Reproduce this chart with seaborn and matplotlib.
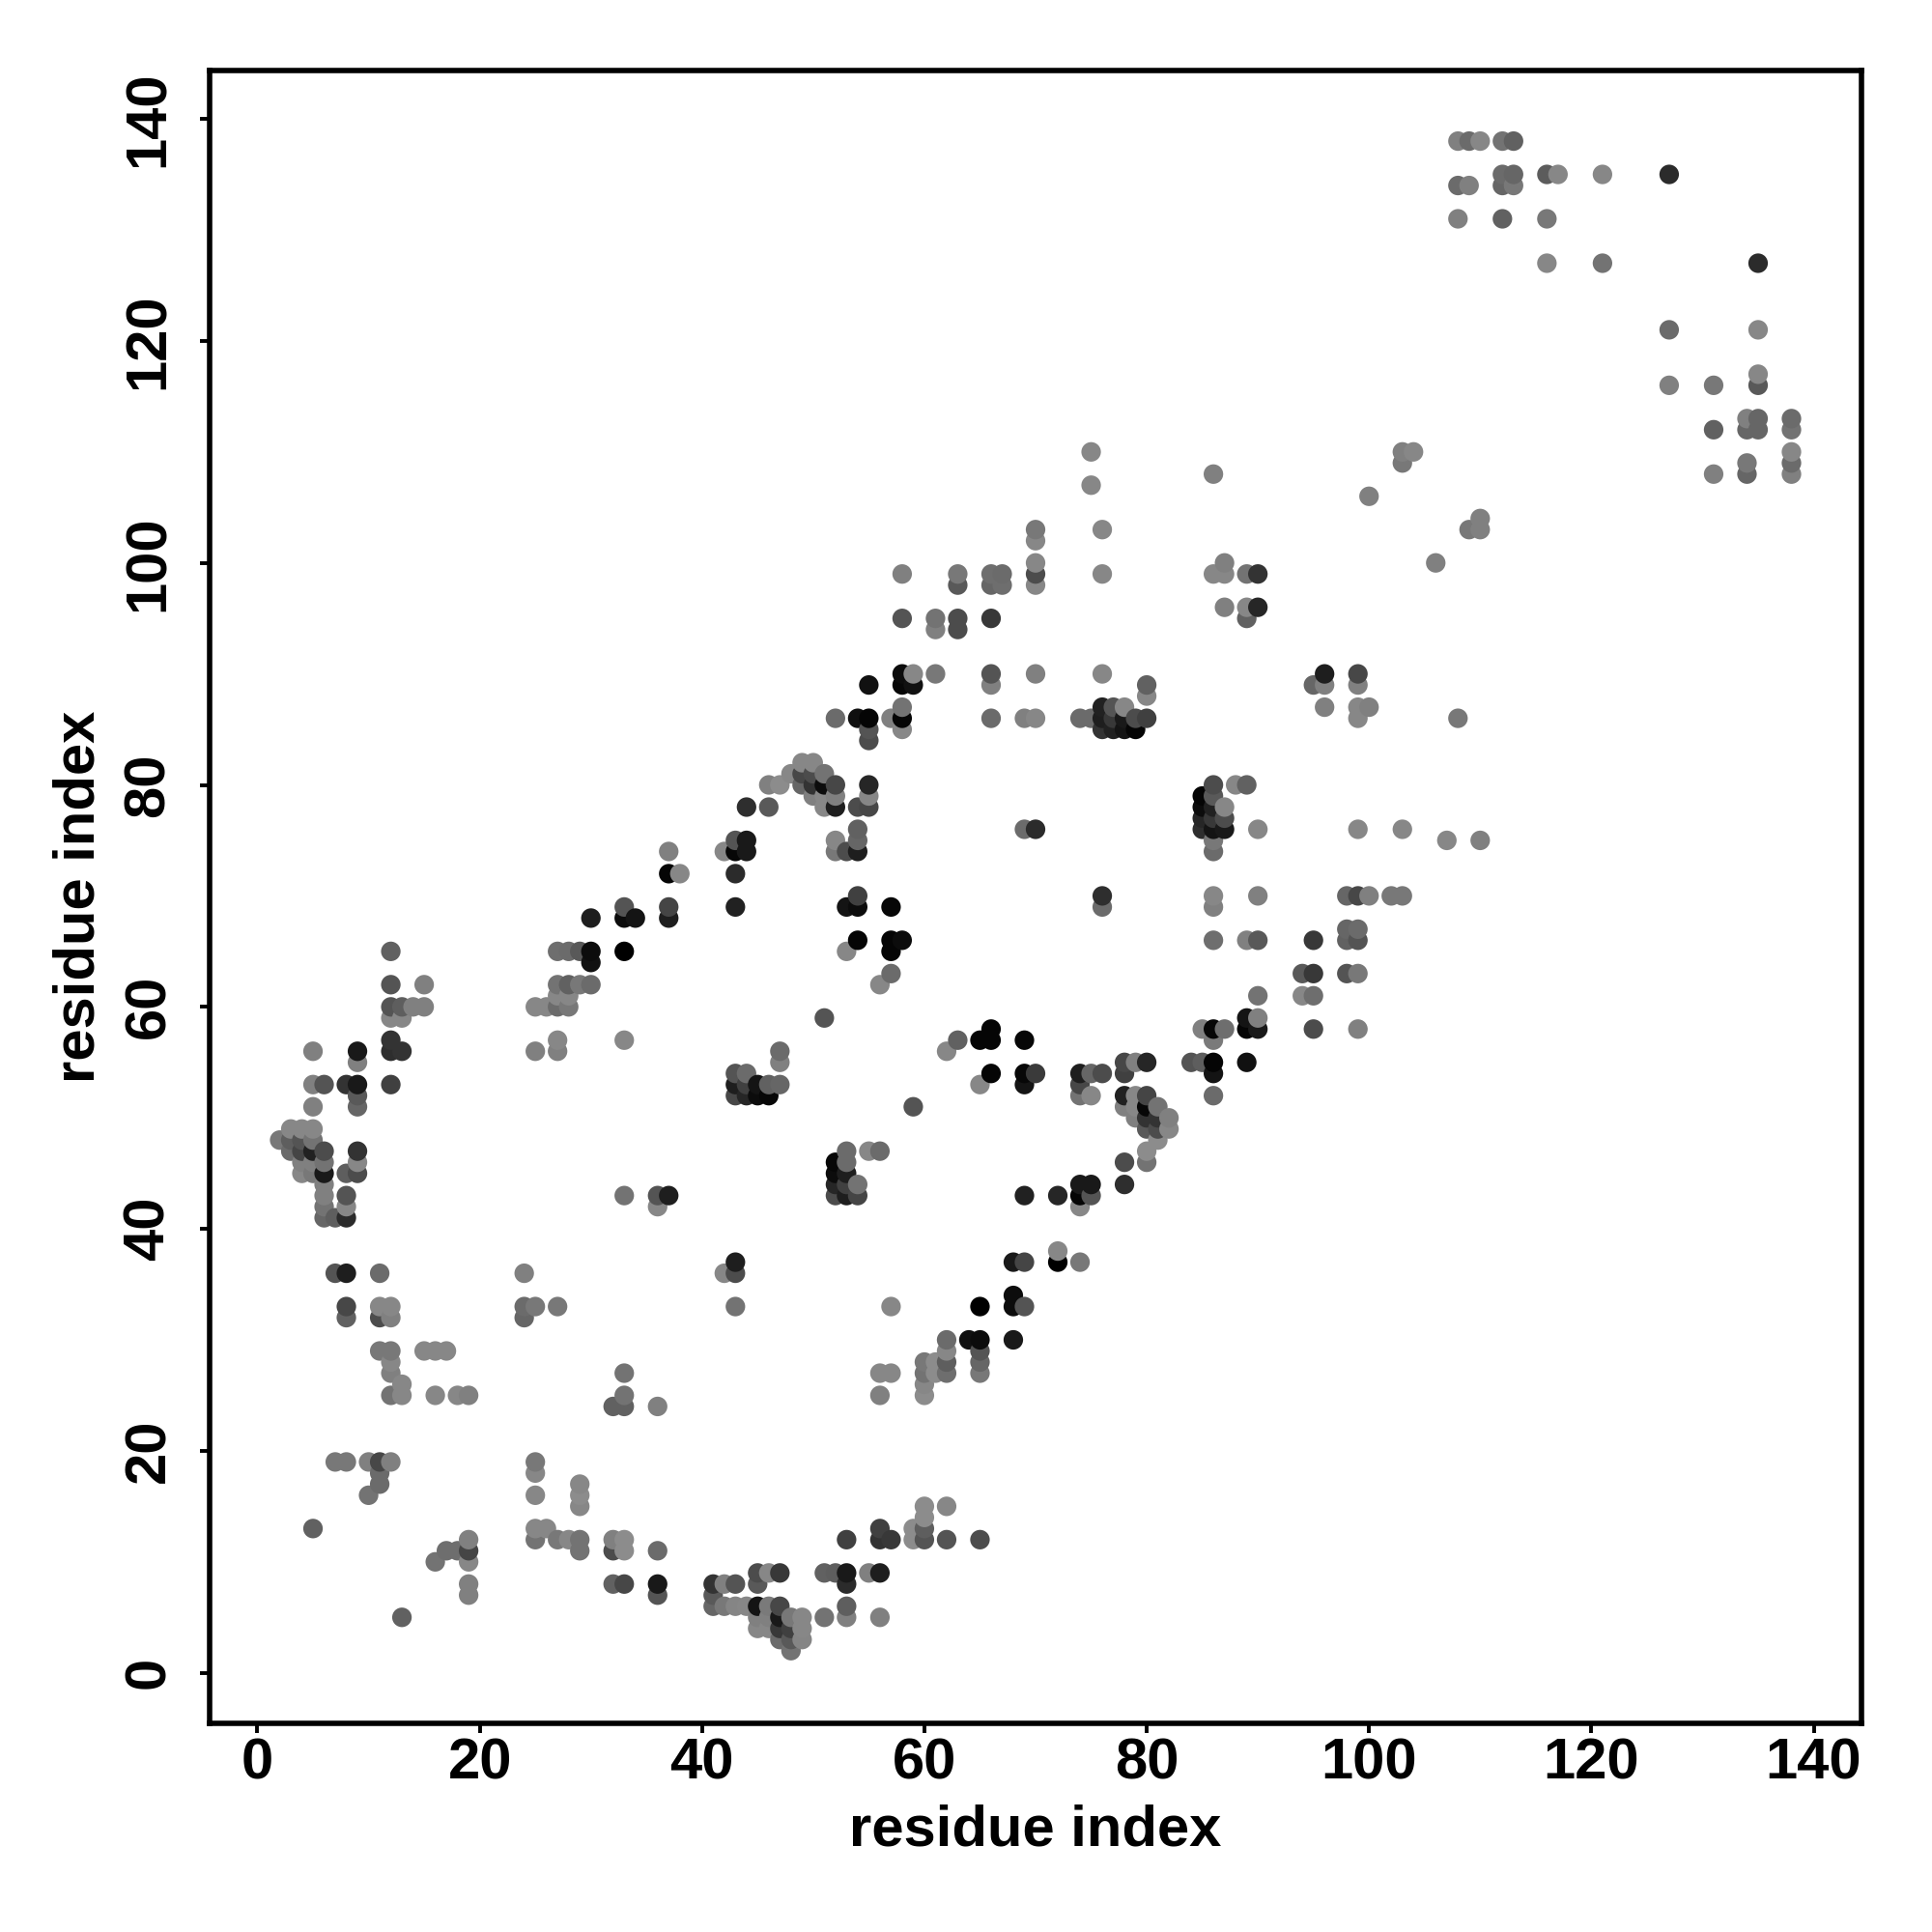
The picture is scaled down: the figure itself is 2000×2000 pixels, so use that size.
import pandas as pd
import seaborn as sns
import matplotlib.pyplot as plt

# one line per row of the contact map (same residue_j on each line)
residue_i = [
    108, 109, 110, 112, 113,
    112, 113, 116, 117, 121, 127,
    108, 109, 112, 113,
    108, 112, 116,
    116, 121, 135,
    127, 135,
    135,
    127, 131, 135,
    134, 135, 138,
    131, 134, 135, 138,
    75, 103, 104, 138,
    103, 134, 138,
    86, 131, 134, 138,
    75,
    100,
    110,
    70, 76, 109, 110,
    70,
    70, 87, 106,
    58, 63, 66, 67, 70, 76, 86, 87, 89, 90,
    63, 66, 67, 70,
    87, 89, 90,
    58, 61, 63, 66, 89,
    61, 63,
    58, 59, 61, 66, 70, 76, 96, 99,
    55, 58, 59, 66, 80, 95, 96, 99,
    80,
    58, 76, 77, 78, 96, 99, 100,
    52, 54, 55, 57, 58, 66, 69, 70, 74, 75, 76, 77, 78, 79, 80, 99, 108,
    55, 58, 76, 77, 78, 79,
    55,
    49, 50,
    48, 49, 50, 51,
    46, 47, 49, 50, 51, 52, 55, 86, 88, 89,
    50, 51, 52, 55, 85, 86,
    44, 46, 51, 52, 54, 55, 85, 86, 87,
    85, 86, 87,
    54, 69, 70, 85, 86, 87, 90, 99, 103,
    43, 44, 52, 54, 86, 107, 110,
    37, 42, 43, 44, 52, 53, 54, 86,
    37, 38, 43,
    54, 76, 86, 90, 98, 99, 100, 102, 103,
    33, 37, 43, 53, 54, 57, 76, 86,
    30, 33, 34, 37,
    98, 99,
    54, 57, 58, 86, 89, 90, 95, 98, 99,
    12, 27, 28, 29, 30, 33, 53, 57,
    30,
    57, 94, 95, 98, 99,
    12, 15, 27, 28, 29, 30, 56,
    27, 28, 90, 94, 95,
    12, 13, 14, 15, 25, 26, 27, 28,
    12, 13, 51, 89, 90,
    66, 85, 86, 87, 89, 90, 95, 99,
    12, 27, 33, 63, 65, 66, 69, 86,
    5, 9, 12, 13, 25, 27, 47, 62,
    9, 47, 78, 79, 80, 84, 85, 86, 89,
    43, 44, 66, 69, 70, 74, 75, 76, 78, 86,
    5, 6, 8, 9, 12, 43, 44, 45, 46, 47, 65, 69, 74,
    9, 43, 44, 45, 46, 74, 75, 78, 79, 80, 86,
    5, 9, 59, 78, 79, 80, 81,
    79, 80, 81, 82,
    3, 4, 5, 80, 81, 82,
    2, 3, 4, 5, 81,
    3, 4, 5, 6, 9, 53, 55, 56, 80,
    4, 5, 6, 9, 52, 53, 78, 80,
    4, 5, 6, 8, 9, 52, 53,
    6, 52, 53, 54, 74, 75, 78,
    6, 8, 33, 36, 37, 52, 53, 54, 69, 72, 74, 75,
    6, 8, 36, 74,
    6, 7, 8,
    72,
    43, 68, 69, 72, 74,
    7, 8, 11, 24, 42, 43,
    68,
    8, 11, 12, 24, 25, 27, 43, 57, 65, 68, 69,
    8, 11, 12, 24,
    62, 64, 65, 68,
    11, 12, 15, 16, 17, 62, 65,
    12, 60, 61, 62, 65,
    12, 33, 56, 57, 60, 61, 62, 65,
    13, 60,
    12, 13, 16, 18, 19, 33, 56, 60,
    32, 33, 36,
    7, 8, 10, 11, 12, 25,
    11, 25,
    11, 29,
    10, 25, 29,
    29, 60, 62,
    60,
    5, 25, 26, 56, 59, 60,
    19, 25, 27, 28, 29, 32, 33, 53, 56, 57, 59, 60, 62, 65,
    17, 18, 19, 29, 32, 33, 36,
    16, 19,
    45, 46, 47, 51, 52, 53, 55, 56,
    19, 32, 33, 36, 41, 42, 43, 45, 53,
    19, 36, 41,
    41, 42, 43, 44, 45, 46, 47, 53,
    13, 45, 46, 47, 48, 49, 51, 53, 56,
    45, 46, 47, 48, 49,
    47, 48, 49,
    48,
]
residue_j = [
    138, 138, 138, 138, 138,
    135, 135, 135, 135, 135, 135,
    134, 134, 134, 134,
    131, 131, 131,
    127, 127, 127,
    121, 121,
    117,
    116, 116, 116,
    113, 113, 113,
    112, 112, 112, 112,
    110, 110, 110, 110,
    109, 109, 109,
    108, 108, 108, 108,
    107,
    106,
    104,
    103, 103, 103, 103,
    102,
    100, 100, 100,
    99, 99, 99, 99, 99, 99, 99, 99, 99, 99,
    98, 98, 98, 98,
    96, 96, 96,
    95, 95, 95, 95, 95,
    94, 94,
    90, 90, 90, 90, 90, 90, 90, 90,
    89, 89, 89, 89, 89, 89, 89, 89,
    88,
    87, 87, 87, 87, 87, 87, 87,
    86, 86, 86, 86, 86, 86, 86, 86, 86, 86, 86, 86, 86, 86, 86, 86, 86,
    85, 85, 85, 85, 85, 85,
    84,
    82, 82,
    81, 81, 81, 81,
    80, 80, 80, 80, 80, 80, 80, 80, 80, 80,
    79, 79, 79, 79, 79, 79,
    78, 78, 78, 78, 78, 78, 78, 78, 78,
    77, 77, 77,
    76, 76, 76, 76, 76, 76, 76, 76, 76,
    75, 75, 75, 75, 75, 75, 75,
    74, 74, 74, 74, 74, 74, 74, 74,
    72, 72, 72,
    70, 70, 70, 70, 70, 70, 70, 70, 70,
    69, 69, 69, 69, 69, 69, 69, 69,
    68, 68, 68, 68,
    67, 67,
    66, 66, 66, 66, 66, 66, 66, 66, 66,
    65, 65, 65, 65, 65, 65, 65, 65,
    64,
    63, 63, 63, 63, 63,
    62, 62, 62, 62, 62, 62, 62,
    61, 61, 61, 61, 61,
    60, 60, 60, 60, 60, 60, 60, 60,
    59, 59, 59, 59, 59,
    58, 58, 58, 58, 58, 58, 58, 58,
    57, 57, 57, 57, 57, 57, 57, 57,
    56, 56, 56, 56, 56, 56, 56, 56,
    55, 55, 55, 55, 55, 55, 55, 55, 55,
    54, 54, 54, 54, 54, 54, 54, 54, 54, 54,
    53, 53, 53, 53, 53, 53, 53, 53, 53, 53, 53, 53, 53,
    52, 52, 52, 52, 52, 52, 52, 52, 52, 52, 52,
    51, 51, 51, 51, 51, 51, 51,
    50, 50, 50, 50,
    49, 49, 49, 49, 49, 49,
    48, 48, 48, 48, 48,
    47, 47, 47, 47, 47, 47, 47, 47, 47,
    46, 46, 46, 46, 46, 46, 46, 46,
    45, 45, 45, 45, 45, 45, 45,
    44, 44, 44, 44, 44, 44, 44,
    43, 43, 43, 43, 43, 43, 43, 43, 43, 43, 43, 43,
    42, 42, 42, 42,
    41, 41, 41,
    38,
    37, 37, 37, 37, 37,
    36, 36, 36, 36, 36, 36,
    34,
    33, 33, 33, 33, 33, 33, 33, 33, 33, 33, 33,
    32, 32, 32, 32,
    30, 30, 30, 30,
    29, 29, 29, 29, 29, 29, 29,
    28, 28, 28, 28, 28,
    27, 27, 27, 27, 27, 27, 27, 27,
    26, 26,
    25, 25, 25, 25, 25, 25, 25, 25,
    24, 24, 24,
    19, 19, 19, 19, 19, 19,
    18, 18,
    17, 17,
    16, 16, 16,
    15, 15, 15,
    14,
    13, 13, 13, 13, 13, 13,
    12, 12, 12, 12, 12, 12, 12, 12, 12, 12, 12, 12, 12, 12,
    11, 11, 11, 11, 11, 11, 11,
    10, 10,
    9, 9, 9, 9, 9, 9, 9, 9,
    8, 8, 8, 8, 8, 8, 8, 8, 8,
    7, 7, 7,
    6, 6, 6, 6, 6, 6, 6, 6,
    5, 5, 5, 5, 5, 5, 5, 5, 5,
    4, 4, 4, 4, 4,
    3, 3, 3,
    2,
]
shade = [
    .5, .42, .53, .45, .38,
    .42, .4, .36, .53, .53, .17,
    .42, .5, .4, .47,
    .5, .38, .47,
    .53, .45, .17,
    .42, .53,
    .53,
    .5, .47, .35,
    .5, .4, .42,
    .38, .4, .4, .45,
    .53, .5, .53, .53,
    .47, .47, .42,
    .5, .5, .4, .5,
    .53,
    .5,
    .5,
    .47, .53, .47, .5,
    .53,
    .53, .5, .5,
    .5, .47, .43, .42, .3, .53, .53, .53, .45, .2,
    .35, .4, .43, .53,
    .5, .53, .15,
    .33, .45, .3, .22, .38,
    .5, .3,
    .05, .53, .47, .33, .5, .53, .12, .28,
    .07, .03, .07, .5, .38, .4, .5, .5,
    .53,
    .45, .13, .33, .53, .5, .53, .5,
    .42, .06, .02, .5, .02, .42, .5, .53, .42, .42, .12, .22, .1, .3, .25, .53, .47,
    .33, .53, .2, .13, .08, .02,
    .3,
    .53, .53,
    .53, .28, .3, .45,
    .5, .55, .4, .2, .05, .28, .15, .3, .53, .38,
    .5, .53, .5, .53, .02, .35,
    .18, .35, .53, .12, .3, .28, .05, .13, .53,
    .15, .22, .3,
    .38, .42, .17, .18, .08, .1, .53, .53, .53,
    .33, .1, .53, .4, .47, .53, .5,
    .5, .53, .03, .1, .47, .3, .12, .42,
    .02, .53, .17,
    .25, .18, .53, .5, .4, .28, .5, .47, .47,
    .33, .27, .13, .08, .05, .03, .42, .5,
    .12, .05, .08, .12,
    .4, .42,
    .02, .02, .05, .43, .5, .35, .22, .38, .33,
    .38, .43, .42, .35, .05, 0, .53, .02,
    .07,
    .42, .35, .22, .33, .47,
    .33, .5, .45, .38, .47, .42, .53,
    .53, .53, .45, .53, .43,
    .33, .37, .5, .5, .53, .53, .42, .47,
    .53, .53, .33, .08, .5,
    .02, .5, .03, .43, .02, .1, .3, .5,
    .2, .53, .53, .38, .02, .02, .03, .48,
    .5, .1, .18, .2, .5, .5, .42, .53,
    .5, .5, .28, .5, .15, .33, .37, .02, .07,
    .33, .42, .02, .03, .23, .12, .4, .3, .25, .08,
    .5, .33, .2, .1, .25, .12, .25, .08, .38, .4, .53, .08, .28,
    .35, .28, .15, .05, .03, .45, .53, .13, .53, .27, .42,
    .5, .4, .33, .5, .53, .03, .45,
    .5, .2, .2, .5,
    .53, .53, .53, .35, .3, .53,
    .47, .37, .33, .45, .55,
    .42, .27, .13, .3, .2, .42, .53, .42, .55,
    .5, .5, .45, .53, .03, .42, .3, .45,
    .53, .47, .1, .37, .3, .05, .12,
    .5, .15, .25, .45, .1, .1, .18,
    .5, .33, .45, .33, .12, .3, .12, .27, .13, .15, .02, .33,
    .45, .53, .53, .53,
    .4, .37, .17,
    .53,
    .12, .1, .27, 0, .47,
    .33, .12, .42, .5, .53, .3,
    .05,
    .28, .53, .53, .42, .47, .47, .45, .53, 0, .05, .33,
    .38, .3, .5, .4,
    .42, .07, .05, .1,
    .47, .47, .53, .53, .53, .53, .33,
    .53, .47, .55, .37, .4,
    .5, .45, .53, .53, .45, .55, .43, .47,
    .53, .53,
    .45, .53, .53, .53, .5, .45, .5, .55,
    .38, .38, .5,
    .47, .47, .5, .28, .5, .47,
    .42, .53,
    .42, .53,
    .45, .53, .55,
    .53, .55, .53,
    .55,
    .38, .53, .53, .25, .55, .37,
    .5, .45, .47, .53, .45, .5, .55, .25, .2, .22, .55, .33, .33, .3,
    .43, .43, .27, .45, .3, .55, .42,
    .45, .53,
    .3, .53, .22, .38, .37, .1, .5, .12,
    .5, .38, .28, .1, .2, .5, .33, .35, .17,
    .5, .33, .35,
    .4, .47, .52, .53, .08, .48, .28, .37,
    .38, .5, .5, .1, .47, .53, .45, .5, .5,
    .53, .53, .22, .25, .53,
    .42, .35, .52,
    .45,
]

tick_values = [0, 20, 40, 60, 80, 100, 120, 140]


def main():
    df = pd.DataFrame({'i': residue_i, 'j': residue_j, 'shade': shade})
    df = df.sort_values(['i', 'j'])

    sns.set_theme(style="ticks")
    plt.rcParams['font.family'] = ['Liberation Sans', 'DejaVu Sans']
    plt.rcParams['font.weight'] = 'bold'

    fig = plt.figure(figsize=(10, 10), dpi=200)
    ax = fig.add_axes([0.1085, 0.108, 0.855, 0.8555])

    sns.scatterplot(data=df, x='i', y='j', hue='shade', palette='gray',
                    hue_norm=(0, 1), s=53, linewidth=0, legend=False, ax=ax)

    ax.set_xlim(-4.3, 144.3)
    ax.set_ylim(-4.55, 144.36)
    ax.set_xticks(tick_values)
    ax.set_yticks(tick_values)
    ax.tick_params(axis='both', length=3.6, width=1.4, color='black',
                   labelsize=21.5, labelcolor='black')
    ax.tick_params(axis='x', pad=1.5)
    ax.tick_params(axis='y', pad=9)
    plt.setp(ax.get_yticklabels(), rotation=90, ha='center', va='bottom',
             rotation_mode='anchor')

    ax.set_xlabel('residue index', fontsize=21.5, fontweight='bold', color='black')
    ax.set_ylabel('residue index', fontsize=21.5, fontweight='bold', color='black')
    ax.xaxis.set_label_coords(0.5, -0.049)
    ax.yaxis.set_label_coords(-0.063, 0.5)

    for spine in ax.spines.values():
        spine.set_visible(True)
        spine.set_linewidth(2.0)
        spine.set_color('black')

    fig.savefig('out.png', dpi=200)


if __name__ == "__main__":
    main()
